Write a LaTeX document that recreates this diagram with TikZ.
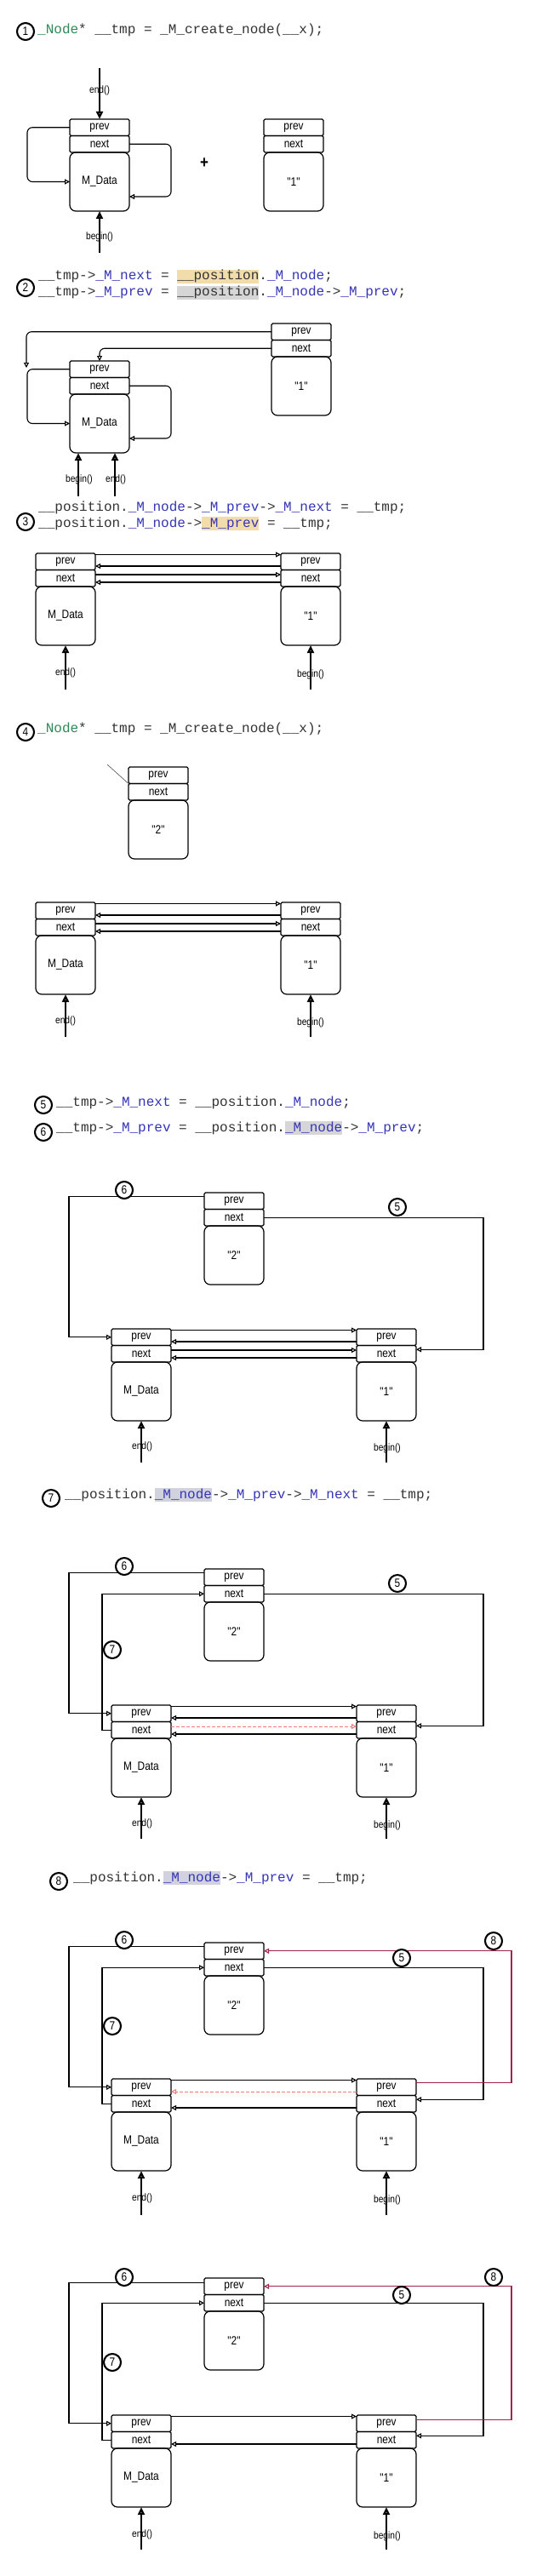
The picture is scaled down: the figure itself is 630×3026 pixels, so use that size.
\documentclass[tikz,border=0pt]{standalone}
\usepackage{fontspec}
\usepackage{xcolor}
\usepackage{tikz}
\usetikzlibrary{arrows.meta,positioning}
\newfontfamily\lblfont[FakeStretch=0.85]{Liberation Sans}
\newfontfamily\codefont{Liberation Mono}
\definecolor{codeblue}{HTML}{3535B8}
\definecolor{codegreen}{HTML}{2E8B57}
\definecolor{codeink}{HTML}{333333}
\definecolor{hlorange}{HTML}{F3DCAC}
\definecolor{hlgray}{HTML}{D6D6D6}
\definecolor{hllav}{HTML}{D2D2DE}
\definecolor{crimson}{HTML}{A3224F}
\definecolor{oldred}{HTML}{F07A7A}
\newcommand\mem[1]{\textcolor{codeblue}{#1}}
\newcommand\hlbox[2]{{\setlength\fboxsep{0pt}\colorbox{#1}{\rule[-4pt]{0pt}{16pt}#2}}}
% one list node: prev / next / data stacked
\newcommand\listnode[4]{%
  \node[cell,anchor=north west] (#1-p) at (#2,#3) {prev};
  \node[cell,below=0pt of #1-p] (#1-n) {next};
  \node[datacell,below=0pt of #1-n] (#1-d) {#4};}

\begin{document}
\begin{tikzpicture}[
  x=1pt, y=-1pt,
  cell/.style={draw,line width=1.2pt,rounded corners=1.5pt,minimum width=70pt,minimum height=19.5pt,inner sep=0pt,outer sep=0pt,font=\lblfont\fontsize{14}{14}\selectfont},
  datacell/.style={cell,minimum height=69pt,rounded corners=7pt},
  ptr/.style={-{Triangle[open,length=6pt,width=6pt]},line width=1.1pt},
  selfptr/.style={ptr,rounded corners=6pt},
  newptr/.style={ptr,draw=crimson},
  gone/.style={-{Triangle[open,length=6pt,width=6pt]},draw=oldred,line width=1pt,dash pattern=on 4pt off 2pt},
  stray/.style={line width=0.6pt,draw=black!70},
  iter/.style={-{Triangle[open,length=9pt,width=8pt]},line width=2.4pt},
  itlbl/.style={font=\lblfont\fontsize{12}{12}\selectfont,inner sep=0pt},
  num/.style={circle,draw,fill=white,line width=2.1pt,minimum size=20pt,inner sep=0pt,font=\lblfont\fontsize{14}{14}\selectfont},
  code/.style={anchor=base west,inner sep=0pt,font=\codefont\fontsize{16}{16}\selectfont,text=codeink}
]
  \useasboundingbox[fill=white] (0,0) rectangle (630,3026);

  % step 1
  \node[num] (m1) at (30,37) {1};
  \node[code] (ln1) at (44,40) {\textcolor{codegreen}{\_Node}* \_\_tmp = \_M\_create\_node(\_\_x);};
  \listnode{a1}{82}{140}{M\_Data}
  \listnode{b1}{310}{140}{"1"}
  \node[font=\lblfont\fontsize{20}{20}\selectfont\bfseries] (plus1) at (240,192) {+};
  \draw[selfptr] (a1-p.west) -- ++(-50,0) |- (a1-d.west);
  \draw[selfptr] (a1-n.east) -- ++(49,0) |- ([yshift=-17.5pt]a1-d.east);
  \node[itlbl] (t1e) at (117,106) {end()};
  \node[itlbl] (t1b) at (117,278) {begin()};
  \coordinate (e1) at (117,80);
  \coordinate (g1) at (117,297);
  \draw[iter] (e1) -- (a1-p.north);
  \draw[iter] (g1) -- (a1-d.south);

  % step 2
  \node[num] (m2) at (30,338) {2};
  \node[code] (ln2a) at (45,329) {\_\_tmp->\mem{\_M\_next} = \hlbox{hlorange}{\_\_position}.\mem{\_M\_node};};
  \node[code] (ln2b) at (45,348) {\_\_tmp->\mem{\_M\_prev} = \hlbox{hlgray}{\_\_position}.\mem{\_M\_node}->\mem{\_M\_prev};};
  \listnode{a2}{82}{424}{M\_Data}
  \listnode{b2}{319}{380}{"1"}
  \draw[selfptr] (a2-p.west) -- ++(-50,0) |- (a2-d.west);
  \draw[selfptr] (a2-n.east) -- ++(49,0) |- ([yshift=-17.5pt]a2-d.east);
  \coordinate (h2) at (31,432);
  \draw[selfptr] (b2-p.west) -| (h2);
  \draw[selfptr] (b2-n.west) -| (a2-p.north);
  \node[itlbl] (t2b) at (93,563) {begin()};
  \node[itlbl] (t2e) at (136,563) {end()};
  \coordinate (g2) at (92,583);
  \coordinate (e2) at (135,583);
  \draw[iter] (g2) -- (g2 |- a2-d.south);
  \draw[iter] (e2) -- (e2 |- a2-d.south);

  % step 3
  \node[num] (m3) at (30,613) {3};
  \node[code] (ln3a) at (45,600) {\_\_position.\mem{\_M\_node}->\mem{\_M\_prev}->\mem{\_M\_next} = \_\_tmp;};
  \node[code] (ln3b) at (45,619) {\_\_position.\mem{\_M\_node}->\hlbox{hlorange}{\mem{\_M\_prev}} = \_\_tmp;};
  \listnode{a3}{42}{650}{M\_Data}
  \listnode{b3}{330}{650}{"1"}
  \draw[ptr] ([yshift=-1.5pt]a3-p.north east) -- ([yshift=-1.5pt]b3-p.north west);
  \draw[ptr] ([yshift=-15pt]b3-p.north west) -- ([yshift=-15pt]a3-p.north east);
  \draw[ptr] ([yshift=-25pt]a3-p.north east) -- ([yshift=-25pt]b3-p.north west);
  \draw[ptr] ([yshift=-34pt]b3-p.north west) -- ([yshift=-34pt]a3-p.north east);
  \node[itlbl] (t3e) at (77,790) {end()};
  \node[itlbl] (t3b) at (365,792) {begin()};
  \coordinate (e3) at (77,810);
  \coordinate (g3) at (365,810);
  \draw[iter] (e3) -- (a3-d.south);
  \draw[iter] (g3) -- (b3-d.south);

  % step 4
  \node[num] (m4) at (30,860) {4};
  \node[code] (ln4) at (44,860) {\textcolor{codegreen}{\_Node}* \_\_tmp = \_M\_create\_node(\_\_x);};
  \listnode{c4}{151}{901}{"2"}
  \coordinate (s4) at (126,898);
  \draw[stray] (s4) -- (c4-p.south west);
  \listnode{a4}{42}{1060}{M\_Data}
  \listnode{b4}{330}{1060}{"1"}
  \draw[ptr] ([yshift=-1.5pt]a4-p.north east) -- ([yshift=-1.5pt]b4-p.north west);
  \draw[ptr] ([yshift=-15pt]b4-p.north west) -- ([yshift=-15pt]a4-p.north east);
  \draw[ptr] ([yshift=-25pt]a4-p.north east) -- ([yshift=-25pt]b4-p.north west);
  \draw[ptr] ([yshift=-34pt]b4-p.north west) -- ([yshift=-34pt]a4-p.north east);
  \node[itlbl] (t4e) at (77,1199) {end()};
  \node[itlbl] (t4b) at (365,1201) {begin()};
  \coordinate (e4) at (77,1218);
  \coordinate (g4) at (365,1218);
  \draw[iter] (e4) -- (a4-d.south);
  \draw[iter] (g4) -- (b4-d.south);

  % steps 5 and 6
  \node[num] (m5) at (51,1298) {5};
  \node[code] (ln5) at (66,1299) {\_\_tmp->\mem{\_M\_next} = \_\_position.\mem{\_M\_node};};
  \node[num] (m6) at (51,1330) {6};
  \node[code] (ln6) at (66,1329) {\_\_tmp->\mem{\_M\_prev} = \_\_position.\hlbox{hlgray}{\mem{\_M\_node}}->\mem{\_M\_prev};};
  \listnode{c5}{240}{1401}{"2"}
  \listnode{a5}{131}{1561}{M\_Data}
  \listnode{b5}{419}{1561}{"1"}
  \draw[ptr] ([yshift=5pt]c5-p.west) -- ++(-159,0) |- (a5-p.west);
  \draw[ptr] (c5-n.east) -- ++(258,0) |- ([yshift=5pt]b5-n.east);
  \draw[ptr] ([yshift=-1.5pt]a5-p.north east) -- ([yshift=-1.5pt]b5-p.north west);
  \draw[ptr] ([yshift=-15pt]b5-p.north west) -- ([yshift=-15pt]a5-p.north east);
  \draw[ptr] ([yshift=-25pt]a5-p.north east) -- ([yshift=-25pt]b5-p.north west);
  \draw[ptr] ([yshift=-34pt]b5-p.north west) -- ([yshift=-34pt]a5-p.north east);
  \node[num] (m5s) at (146,1398) {6};
  \node[num] (m5n) at (467,1418) {5};
  \node[itlbl] (t5e) at (167,1699) {end()};
  \node[itlbl] (t5b) at (455,1701) {begin()};
  \coordinate (e5) at (166,1718);
  \coordinate (g5) at (454,1718);
  \draw[iter] (e5) -- (a5-d.south);
  \draw[iter] (g5) -- (b5-d.south);

  % step 7
  \node[num] (m7) at (60,1760) {7};
  \node[code] (ln7) at (76,1760) {\_\_position.\hlbox{hllav}{\mem{\_M\_node}}->\mem{\_M\_prev}->\mem{\_M\_next} = \_\_tmp;};
  \listnode{c7}{240}{1843}{"2"}
  \listnode{a7}{131}{2003}{M\_Data}
  \listnode{b7}{419}{2003}{"1"}
  \draw[ptr] ([yshift=5pt]c7-p.west) -- ++(-159,0) |- (a7-p.west);
  \draw[ptr] (a7-n.west) -- ++(-11,0) |- (c7-n.west);
  \draw[ptr] (c7-n.east) -- ++(258,0) |- ([yshift=5pt]b7-n.east);
  \draw[ptr] ([yshift=-1.5pt]a7-p.north east) -- ([yshift=-1.5pt]b7-p.north west);
  \draw[ptr] ([yshift=-15pt]b7-p.north west) -- ([yshift=-15pt]a7-p.north east);
  \draw[gone] ([yshift=-25pt]a7-p.north east) -- ([yshift=-25pt]b7-p.north west);
  \draw[ptr] ([yshift=-34pt]b7-p.north west) -- ([yshift=-34pt]a7-p.north east);
  \node[num] (m7s) at (146,1840) {6};
  \node[num] (m7n) at (467,1860) {5};
  \node[num] (m7t) at (132,1938) {7};
  \node[itlbl] (t7e) at (167,2142) {end()};
  \node[itlbl] (t7b) at (455,2144) {begin()};
  \coordinate (e7) at (166,2160);
  \coordinate (g7) at (454,2160);
  \draw[iter] (e7) -- (a7-d.south);
  \draw[iter] (g7) -- (b7-d.south);

  % step 8
  \node[num] (m8) at (69,2210) {8};
  \node[code] (ln8) at (86,2210) {\_\_position.\hlbox{hllav}{\mem{\_M\_node}}->\mem{\_M\_prev} = \_\_tmp;};
  \listnode{c8}{240}{2282}{"2"}
  \listnode{a8}{131}{2442}{M\_Data}
  \listnode{b8}{419}{2442}{"1"}
  \draw[ptr] ([yshift=5pt]c8-p.west) -- ++(-159,0) |- (a8-p.west);
  \draw[ptr] (a8-n.west) -- ++(-11,0) |- (c8-n.west);
  \draw[ptr] (c8-n.east) -- ++(258,0) |- ([yshift=5pt]b8-n.east);
  \draw[newptr] ([yshift=5pt]b8-p.east) -- ++(112,0) |- (c8-p.east);
  \draw[ptr] ([yshift=-1.5pt]a8-p.north east) -- ([yshift=-1.5pt]b8-p.north west);
  \draw[gone] ([yshift=-15pt]b8-p.north west) -- ([yshift=-15pt]a8-p.north east);
  \draw[ptr] ([yshift=-34pt]b8-p.north west) -- ([yshift=-34pt]a8-p.north east);
  \node[num] (m8s) at (146,2279) {6};
  \node[num] (m8n) at (472,2300) {5};
  \node[num] (m8t) at (132,2380) {7};
  \node[num] (m8r) at (580,2280) {8};
  \node[itlbl] (t8e) at (167,2582) {end()};
  \node[itlbl] (t8b) at (455,2584) {begin()};
  \coordinate (e8) at (166,2602);
  \coordinate (g8) at (454,2602);
  \draw[iter] (e8) -- (a8-d.south);
  \draw[iter] (g8) -- (b8-d.south);

  % result
  \listnode{c9}{240}{2676}{"2"}
  \listnode{a9}{131}{2837}{M\_Data}
  \listnode{b9}{419}{2837}{"1"}
  \draw[ptr] ([yshift=4pt]c9-p.west) -- ++(-159,0) |- (a9-p.west);
  \draw[ptr] (a9-n.west) -- ++(-11,0) |- (c9-n.west);
  \draw[ptr] (c9-n.east) -- ++(258,0) |- ([yshift=5pt]b9-n.east);
  \draw[newptr] ([yshift=4pt]b9-p.east) -- ++(112,0) |- (c9-p.east);
  \draw[ptr] ([yshift=-1.5pt]a9-p.north east) -- ([yshift=-1.5pt]b9-p.north west);
  \draw[ptr] ([yshift=-34pt]b9-p.north west) -- ([yshift=-34pt]a9-p.north east);
  \node[num] (m9s) at (146,2675) {6};
  \node[num] (m9n) at (472,2696) {5};
  \node[num] (m9t) at (132,2775) {7};
  \node[num] (m9r) at (580,2675) {8};
  \node[itlbl] (t9e) at (167,2977) {end()};
  \node[itlbl] (t9b) at (455,2979) {begin()};
  \coordinate (e9) at (166,2995);
  \coordinate (g9) at (454,2995);
  \draw[iter] (e9) -- (a9-d.south);
  \draw[iter] (g9) -- (b9-d.south);
\end{tikzpicture}
\end{document}
